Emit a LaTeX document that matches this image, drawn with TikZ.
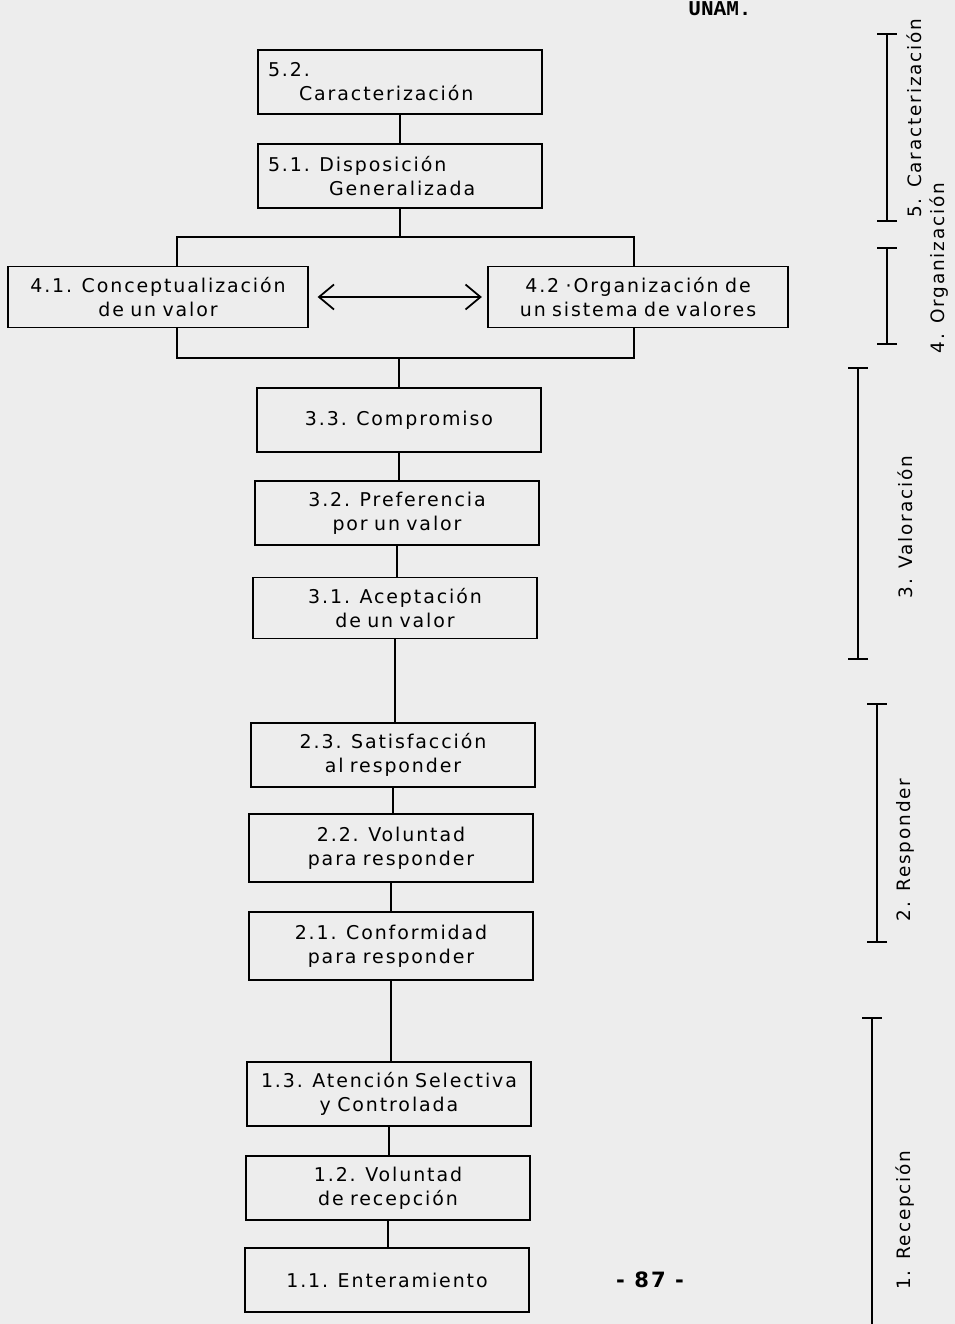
\documentclass[tikz,border=0pt]{standalone}
\usepackage{fontspec}
\usepackage{tikz}
\usetikzlibrary{arrows.meta,positioning,calc}
\newfontfamily\boxfont[LetterSpace=10,WordSpace=1.6]{DejaVu Sans}
\newfontfamily\sidefont[LetterSpace=10]{DejaVu Sans}
\newfontfamily\typefont{Liberation Mono}
\tikzset{
  stage/.style={draw, line width=1pt, font=\boxfont\fontsize{10.8}{13.6}\selectfont,
    text width=5.48cm, inner xsep=1mm, inner ysep=1mm, minimum height=1.28cm, align=center},
  widestage/.style={stage, text width=5.8cm, minimum height=1.22cm},
  link/.style={line width=1pt},
  dbl/.style={{Straight Barb[length=3mm,width=5mm]}-{Straight Barb[length=3mm,width=5mm]}, line width=1pt},
  phase/.style={line width=1pt, {Bar[width=4mm]}-{Bar[width=4mm]}},
  phaselbl/.style={rotate=90, font=\sidefont\fontsize{10.5}{12}\selectfont, inner sep=0pt}
}

\begin{document}
\begin{tikzpicture}[x=0.02cm, y=-0.02cm]
  % --- Page ---
  \fill[black!7] (0,0) rectangle (955,1324);
  \useasboundingbox (0,0) rectangle (955,1324);
  \node[font=\typefont\bfseries\fontsize{12}{12}\selectfont, anchor=north, inner sep=0pt] (unam) at (720,1) {UNAM.};

  % --- 5. Caracterizacion ---
  \node[stage, align=left] (b52) at (400,82) {\hspace*{0.1cm}5.2.\\\hspace*{0.72cm}Caracterización};
  \node[stage, align=left] (b51) at (400,176) {\hspace*{0.1cm}5.1. Disposición\\\hspace*{1.32cm}Generalizada};

  % --- 4. Organizacion ---
  \node[widestage] (b41) at (158,297) {4.1. Conceptualización\\de un valor};
  \node[widestage] (b42) at (638,297) {4.2 ·Organización de\\un sistema de valores};
  \coordinate (tl) at (177,237);
  \coordinate (tr) at (634,237);
  \coordinate (bl) at (177,358);
  \coordinate (br) at (634,358);
  \draw[dbl, shorten <=5pt, shorten >=3pt] (b41.east) -- (b42.west);

  % --- 3. Valoracion ---
  \node[stage] (b33) at (399,420) {3.3. Compromiso};
  \node[stage] (b32) at (397,513) {3.2. Preferencia\\por un valor};
  \node[stage, minimum height=1.22cm] (b31) at (395,608) {3.1. Aceptación\\de un valor};

  % --- 2. Responder ---
  \node[stage] (b23) at (393,755) {2.3. Satisfacción\\al responder};
  \node[stage, minimum height=1.36cm] (b22) at (391,848) {2.2. Voluntad\\para responder};
  \node[stage, minimum height=1.36cm] (b21) at (391,946) {2.1. Conformidad\\para responder};

  % --- 1. Recepcion ---
  \node[stage] (b13) at (389,1094) {1.3. Atención Selectiva\\y Controlada};
  \node[stage] (b12) at (388,1188) {1.2. Voluntad\\de recepción};
  \node[stage] (b11) at (387,1280) {1.1. Enteramiento};
  \node[font=\sidefont\bfseries\fontsize{12}{12}\selectfont] (pg) at (650,1280) {- 87 -};

  % --- Links ---
  \draw[link] (b52.south) -- (b52.south |- b51.north);
  \draw[link] (b51.south) -- (b51.south |- tl);
  \draw[link] (tl |- b41.north) -- (tl) -- (tr) -- (tr |- b42.north);
  \draw[link] (bl |- b41.south) -- (bl) -- (br) -- (br |- b42.south);
  \draw[link] (b33.north |- bl) -- (b33.north);
  \draw[link] (b33.south) -- (b33.south |- b32.north);
  \draw[link] (b32.south) -- (b32.south |- b31.north);
  \draw[link] (b31.south) -- (b31.south |- b23.north);
  \draw[link] (b23.south) -- (b23.south |- b22.north);
  \draw[link] (b22.south) -- (b22.south |- b21.north);
  \draw[link] (b21.south) -- (b21.south |- b13.north);
  \draw[link] (b13.south) -- (b13.south |- b12.north);
  \draw[link] (b12.south) -- (b12.south |- b11.north);

  % --- Levels on the right ---
  \draw[phase] (887,33) -- (887,222);
  \node[phaselbl] (l5) at (914,118) {5. Caracterización};
  \draw[phase] (887,247) -- (887,345);
  \node[phaselbl] (l4) at (939,268) {4. Organización};
  \draw[phase] (858,367) -- (858,660);
  \node[phaselbl] (l3) at (905,527) {3. Valoración};
  \draw[phase] (877,703) -- (877,943);
  \node[phaselbl] (l2) at (905,850) {2. Responder};
  \draw[line width=1pt, {Bar[width=4mm]}-] (872,1017) -- (872,1324);
  \node[phaselbl] (l1) at (905,1220) {1. Recepción};
\end{tikzpicture}
\end{document}
